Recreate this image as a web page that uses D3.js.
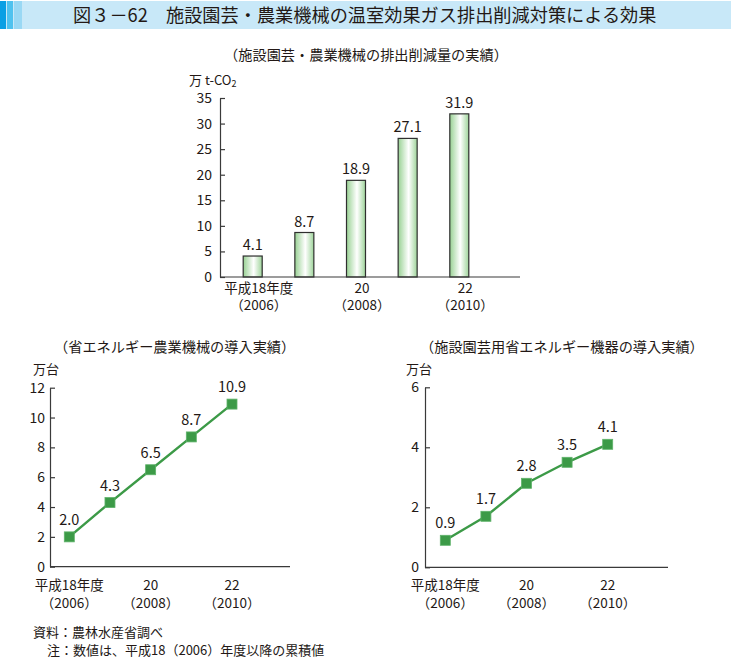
<!DOCTYPE html>
<html><head><meta charset="utf-8">
<script src="https://cdn.jsdelivr.net/npm/d3@7"></script>
<style>
html,body{margin:0;padding:0;background:#fff;}
text{font-family:"Noto Sans CJK JP","Noto Sans",sans-serif;fill:#231815;}
</style></head>
<body>
<svg id="c" width="731" height="660"></svg>
<script>
// ---- data ----
const titleText = "図３－62　施設園芸・農業機械の温室効果ガス排出削減対策による効果";
const years = ["平成18年度", "19", "20", "21", "22"];
const yearLabels1 = ["平成18年度", "", "20", "", "22"];
const yearLabels2 = ["（2006）", "", "（2008）", "", "（2010）"];

const barTitle = "（施設園芸・農業機械の排出削減量の実績）";
const barValues = [4.1, 8.7, 18.9, 27.1, 31.9];
const barTicks = [0, 5, 10, 15, 20, 25, 30, 35];

const machTitle = "（省エネルギー農業機械の導入実績）";
const machValues = [2.0, 4.3, 6.5, 8.7, 10.9];
const machTicks = [0, 2, 4, 6, 8, 10, 12];

const hortTitle = "（施設園芸用省エネルギー機器の導入実績）";
const hortValues = [0.9, 1.7, 2.8, 3.5, 4.1];
const hortTicks = [0, 2, 4, 6];

const notes = ["資料：農林水産省調べ", "注：数値は、平成18（2006）年度以降の累積値"];

// ---- drawing ----
const svg = d3.select("#c");
const green = "#3c9a47";
const axisColor = "#3a3a3a";

// title bar
svg.append("rect").attr("x", 0).attr("y", 1).attr("width", 731).attr("height", 28).attr("fill", "#c8e8f8");
svg.append("rect").attr("x", 0).attr("y", 1).attr("width", 6).attr("height", 28).attr("fill", "#0a9fe4");
svg.append("rect").attr("x", 7).attr("y", 1).attr("width", 6).attr("height", 28).attr("fill", "#4fc2ef");
svg.append("rect").attr("x", 14).attr("y", 1).attr("width", 8).attr("height", 28).attr("fill", "#9ad8f4");
svg.append("text").attr("x", 73).attr("y", 22).attr("font-size", 18.2).text(titleText);

// gradient for bars
const defs = svg.append("defs");
const grad = defs.append("linearGradient").attr("id", "bg").attr("x1", "0%").attr("x2", "100%").attr("y1", "0%").attr("y2", "0%");
grad.append("stop").attr("offset", "0%").attr("stop-color", "#98d193");
grad.append("stop").attr("offset", "55%").attr("stop-color", "#ffffff");
grad.append("stop").attr("offset", "100%").attr("stop-color", "#9ed49a");

function yAxis(g, scale, ticks, pad) {
  const ax = d3.axisLeft(scale).tickValues(ticks).tickSizeInner(-5).tickSizeOuter(0).tickPadding(pad).tickFormat(d3.format("d"));
  g.call(ax);
  g.select(".domain").attr("stroke", axisColor).attr("stroke-width", 1.2);
  g.selectAll(".tick line").attr("stroke", axisColor).attr("stroke-width", 1.2);
  g.selectAll(".tick text").attr("font-size", 14).attr("fill", "#231815")
    .style("font-family", '"Noto Sans CJK JP","Noto Sans",sans-serif');
}

function xLabels(g, xPos, y1, gap) {
  yearLabels1.forEach((t, i) => {
    if (!t) return;
    const tx = g.append("text").attr("x", xPos(i)).attr("y", y1).attr("text-anchor", "middle").attr("font-size", 13.5);
    tx.append("tspan").attr("x", xPos(i)).text(t);
    tx.append("tspan").attr("x", xPos(i)).attr("dy", gap).text(yearLabels2[i]);
  });
}

// ===== bar chart =====
{
  const axX = 220, axEnd = 520;
  const y = d3.scaleLinear().domain([0, 35]).range([277, 98]);
  const x = d3.scaleLinear().domain([0, 4]).range([252.7, 459.3]);
  const bw = 19;
  svg.append("text").attr("x", 366).attr("y", 60).attr("text-anchor", "middle").attr("font-size", 14.2).text(barTitle);
  const u = svg.append("text").attr("x", 189).attr("y", 85).attr("font-size", 13);
  u.append("tspan").text("万 t-CO");
  u.append("tspan").attr("font-size", 9).attr("dy", 2).text("2");

  svg.selectAll("rect.bar").data(barValues).join("rect").attr("class", "bar")
    .attr("x", (d, i) => x(i) - bw / 2).attr("width", bw)
    .attr("y", d => y(d)).attr("height", d => y(0) - y(d))
    .attr("fill", "url(#bg)").attr("stroke", "#2f2f2f").attr("stroke-width", 1.2);
  svg.selectAll("text.bv").data(barValues).join("text").attr("class", "bv")
    .attr("x", (d, i) => x(i)).attr("y", d => y(d) - 6).attr("text-anchor", "middle").attr("font-size", 14.5)
    .text(d => d.toFixed(1));

  const g = svg.append("g").attr("transform", `translate(${axX},0)`);
  yAxis(g, y, barTicks, 8);
  svg.append("line").attr("x1", axX).attr("x2", axEnd).attr("y1", y(0)).attr("y2", y(0)).attr("stroke", axisColor).attr("stroke-width", 1.2);
  xLabels(svg.append("g"), i => x(i) + 6, 292.5, 17.5);
}

// ===== line charts =====
function lineChart(opts) {
  const { title, titleX, unitX, axX, axEnd, yMax, y0, yTop, x0, x4, values, ticks, pad } = opts;
  const y = d3.scaleLinear().domain([0, yMax]).range([y0, yTop]);
  const x = d3.scaleLinear().domain([0, 4]).range([x0, x4]);
  svg.append("text").attr("x", titleX).attr("y", 352).attr("font-size", 14.2).text(title);
  svg.append("text").attr("x", unitX).attr("y", 374).attr("font-size", 13).text("万台");
  const g = svg.append("g").attr("transform", `translate(${axX},0)`);
  yAxis(g, y, ticks, pad);
  svg.append("line").attr("x1", axX).attr("x2", axEnd).attr("y1", y0).attr("y2", y0).attr("stroke", axisColor).attr("stroke-width", 1.2);
  const line = d3.line().x((d, i) => x(i)).y(d => y(d));
  svg.append("path").datum(values).attr("d", line).attr("fill", "none").attr("stroke", green).attr("stroke-width", 2.4);
  const ms = 10;
  svg.append("g").selectAll("rect").data(values).join("rect")
    .attr("x", (d, i) => x(i) - ms / 2).attr("y", d => y(d) - ms / 2).attr("width", ms).attr("height", ms)
    .attr("fill", green).attr("stroke", "#5fb36a").attr("stroke-width", 0.8);
  svg.append("g").selectAll("text").data(values).join("text")
    .attr("x", (d, i) => x(i)).attr("y", d => y(d) - 12).attr("text-anchor", "middle").attr("font-size", 14.5)
    .text(d => d.toFixed(1));
  xLabels(svg.append("g"), i => x(i), 590, 17.5);
}

lineChart({ title: machTitle, titleX: 54, unitX: 33, axX: 50, axEnd: 290, yMax: 12, y0: 566.7, yTop: 387.7,
  x0: 69.3, x4: 232, values: machValues, ticks: machTicks, pad: 5 });
lineChart({ title: hortTitle, titleX: 420, unitX: 406, axX: 425, axEnd: 668, yMax: 6, y0: 567.3, yTop: 387.3,
  x0: 445.3, x4: 607.7, values: hortValues, ticks: hortTicks, pad: 6 });

// notes
svg.append("text").attr("x", 33).attr("y", 637).attr("font-size", 13).text(notes[0]);
svg.append("text").attr("x", 47).attr("y", 655).attr("font-size", 13).text(notes[1]);
</script>
</body></html>
